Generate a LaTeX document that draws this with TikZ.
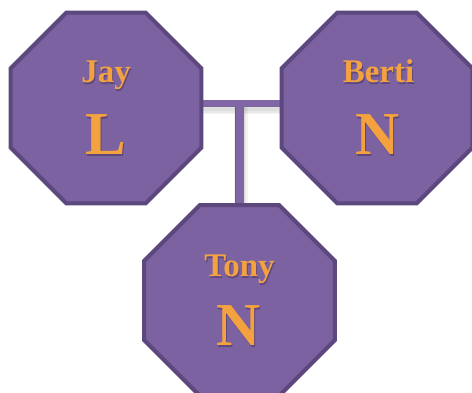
\documentclass[tikz,border=0pt]{standalone}
\usepackage{fontspec}
\setmainfont{Liberation Serif}
\usetikzlibrary{shapes.geometric,calc}
\definecolor{octfill}{RGB}{124,98,160}
\definecolor{octline}{RGB}{92,72,126}
\definecolor{barfill}{RGB}{128,102,164}
\definecolor{txtorange}{RGB}{244,162,64}
\definecolor{txtshadow}{RGB}{66,48,92}
\tikzset{
  oct/.style={regular polygon, regular polygon sides=8, minimum size=206.7pt,
    inner sep=0pt, outer sep=0pt, fill=octfill, draw=octline, line width=4pt},
  namelbl/.style={font=\bfseries\fontsize{33}{33}\selectfont, anchor=base, inner sep=0pt},
  letterlbl/.style={font=\bfseries\fontsize{61}{61}\selectfont, anchor=base, inner sep=0pt},
  hbar/.style={draw=barfill, line width=7pt},
  vbar/.style={draw=barfill, line width=9pt},
  barshadow/.style={draw=black, opacity=0.045},
}
% #1 name, #2 node, #3 dx, #4 dy, #5 text, #6 style
\newcommand\octtext[6]{%
  \node[#6, text=txtshadow, opacity=0.5] (#1s) at ([xshift=#3+1pt,yshift=#4-1.5pt]#2.center) {#5};
  \node[#6, text=txtorange] (#1) at ([xshift=#3,yshift=#4]#2.center) {#5};}
\begin{document}
\begin{tikzpicture}[x=1pt,y=1pt]
\useasboundingbox (0,0) rectangle (472,393);
\clip (0,0) rectangle (472,393);
\fill[white] (0,0) rectangle (472,393);
\path node[oct, draw=none, fill=none] (jay) at (106,285) {}
      node[oct, draw=none, fill=none] (berti) at (377,285) {}
      node[oct, draw=none, fill=none] (tony) at (239.5,92.5) {};
\coordinate (hl) at ([yshift=4.5pt]jay.east);
\coordinate (hr) at ([yshift=4.5pt]berti.west);
\coordinate (junction) at (tony.north |- hl);
% shadows of connectors
\foreach \w in {8,11,14}{
  \draw[barshadow, line width=\w pt] ([yshift=-4pt]hl) -- ([yshift=-4pt]hr);
  \draw[barshadow, line width=\w pt] ([xshift=1pt,yshift=-4pt]junction) -- ([xshift=1pt]tony.north);
}
% connectors
\draw[hbar] (hl) -- (hr);
\draw[vbar] (junction) -- (tony.north);
\draw[draw=octline, line width=1pt, opacity=0.5] ([xshift=-4pt,yshift=-3.5pt]junction) -- ([xshift=-4pt]tony.north);
% octagons
\node[oct] (jayo) at (jay.center) {};
\node[oct] (bertio) at (berti.center) {};
\node[oct] (tonyo) at (tony.center) {};
% labels
\octtext{jayname}{jay}{0pt}{25pt}{Jay}{namelbl}
\octtext{jayletter}{jay}{0pt}{-47pt}{L}{letterlbl}
\octtext{bertiname}{berti}{1.5pt}{25pt}{Berti}{namelbl}
\octtext{bertiletter}{berti}{1pt}{-47pt}{N}{letterlbl}
\octtext{tonyname}{tony}{0pt}{23.5pt}{Tony}{namelbl}
\octtext{tonyletter}{tony}{-1pt}{-45.5pt}{N}{letterlbl}
\end{tikzpicture}
\end{document}
